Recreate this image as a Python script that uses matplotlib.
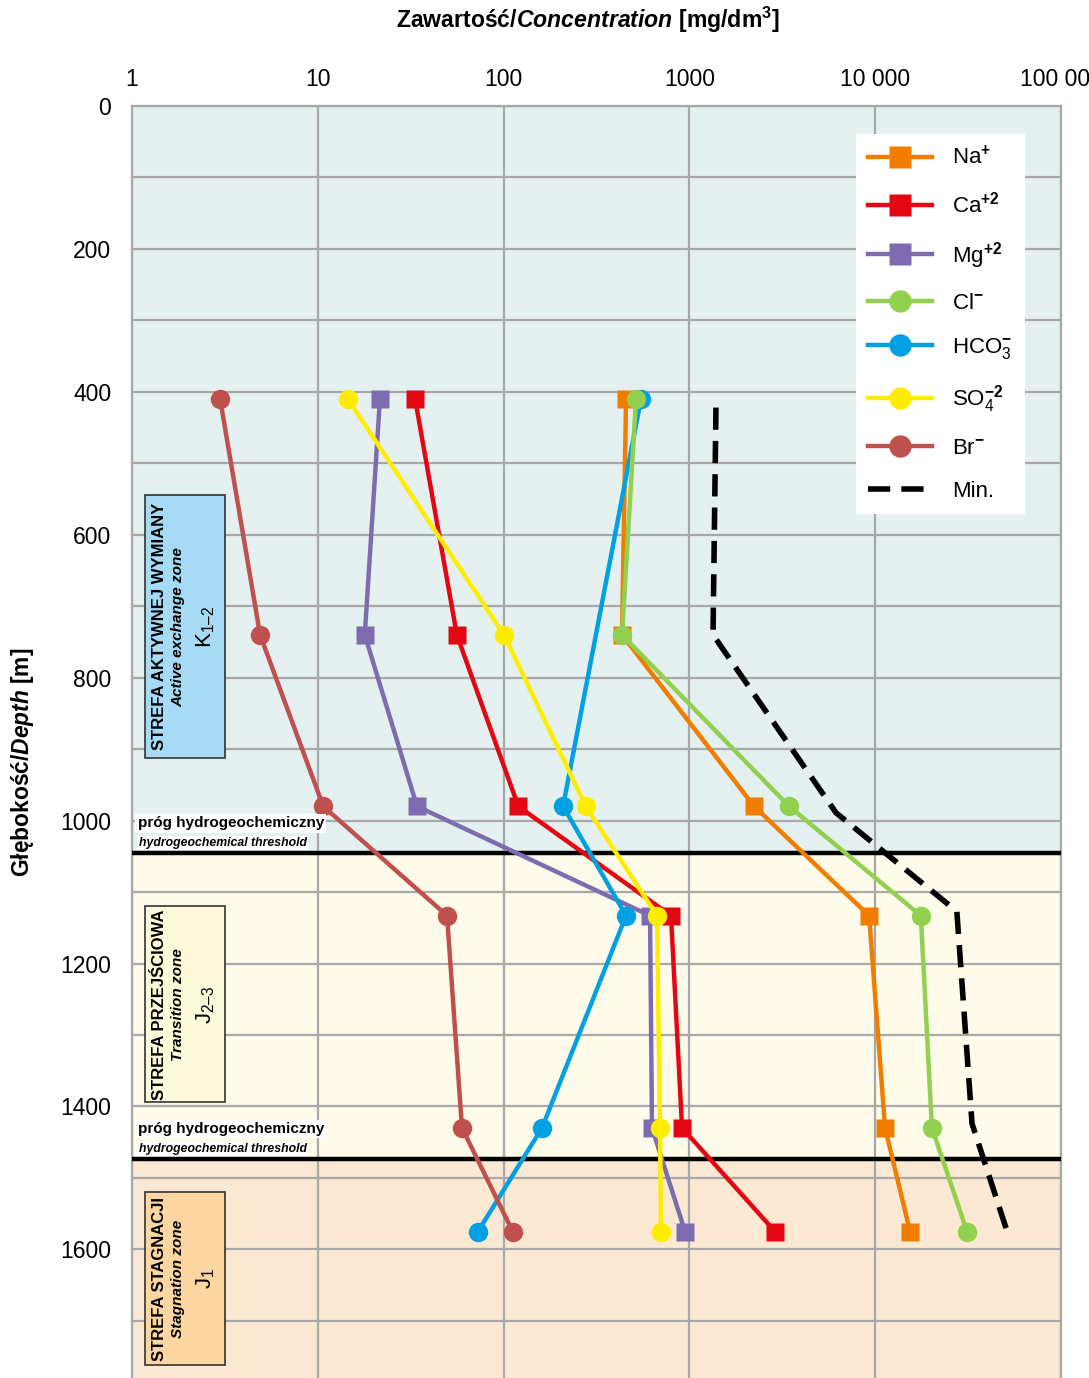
import matplotlib
matplotlib.use("Agg")
import matplotlib.pyplot as plt
import matplotlib.transforms as mtransforms
from matplotlib.patches import Rectangle
from matplotlib.ticker import FixedLocator, NullFormatter

plt.rcParams['font.family'] = ['Liberation Sans', 'DejaVu Sans']
plt.rcParams['mathtext.fontset'] = 'custom'
plt.rcParams['mathtext.rm'] = 'Liberation Sans'
plt.rcParams['mathtext.it'] = 'Liberation Sans:italic'
plt.rcParams['mathtext.bf'] = 'Liberation Sans:bold'
plt.rcParams['mathtext.bfit'] = 'Liberation Sans:italic:bold'
plt.rcParams['mathtext.default'] = 'rm'

# Sampling depths [m]
depth = [410, 740, 980, 1133, 1430, 1575]
depth_hco3 = [410, 980, 1133, 1430, 1575]

# Concentrations [mg/dm3]
na = [456, 434, 2230, 9270, 11300, 15400]
ca = [33.4, 56, 120, 796, 913, 2890]
mg = [21.6, 17.9, 34.2, 614, 629, 947]
cl = [516, 434, 3440, 17600, 20200, 31200]
hco3 = [549, 209, 456, 161, 72.8]
so4 = [14.5, 100.5, 277, 669, 695, 703]
br = [2.98, 4.89, 10.7, 49.6, 59.7, 112]

# Mineralisation curve
min_depth = [422, 740, 989, 1127, 1424, 1579]
min_val = [1390, 1340, 6150, 27500, 33200, 51900]

# Hydrogeochemical zones
zone_bounds = [0, 1046, 1474, 1780]
zone_colors = ['#e5f1f0', '#fefbeb', '#fbe9d4']
thresholds = [1046, 1474]

x_ticks = [1, 10, 100, 1000, 10000, 100000]
x_ticklabels = ['1', '10', '100', '1000', '10 000', '100 000']
y_ticks = [0, 200, 400, 600, 800, 1000, 1200, 1400, 1600]

fig = plt.figure(figsize=(10.89, 13.78), dpi=100)
ax = fig.add_axes([132 / 1089, 0.0, 929 / 1089, 1 - 106 / 1378])
ax.set_xscale('log')
ax.set_xlim(1, 100000)
ax.set_ylim(1780, 0)

# zone backgrounds
for (d0, d1), c in zip(zip(zone_bounds[:-1], zone_bounds[1:]), zone_colors):
    ax.axhspan(d0, d1, color=c, zorder=0, lw=0)

# grid
ax.xaxis.set_major_locator(FixedLocator(x_ticks))
ax.xaxis.set_minor_locator(FixedLocator([]))
ax.yaxis.set_major_locator(FixedLocator(y_ticks))
ax.yaxis.set_minor_locator(FixedLocator(list(range(100, 1800, 200))))
ax.grid(True, which='major', axis='both', color='#a8a8a8', lw=1.6, zorder=1)
ax.grid(True, which='minor', axis='y', color='#a8a8a8', lw=1.6, zorder=1)
ax.set_axisbelow(True)

ax.xaxis.tick_top()
ax.set_xticklabels(x_ticklabels)
ax.tick_params(axis='x', which='both', length=0, pad=11, labelsize=16.5)
ax.tick_params(axis='y', which='both', length=0, pad=15, labelsize=16.5)
ax.yaxis.set_minor_formatter(NullFormatter())
for s in ax.spines.values():
    s.set_color('#a8a8a8')
    s.set_linewidth(1.6)
ax.spines['bottom'].set_visible(False)

for t in thresholds:
    ax.axhline(t, color='black', lw=3.2, zorder=3)

lw = 3.2
ms = 14
series = [
    ('Na$^{\\mathbf{+}}$', na, depth, '#f07d00', 's', 4),
    ('Ca$^{\\mathbf{+2}}$', ca, depth, '#e30613', 's', 4),
    ('Mg$^{\\mathbf{+2}}$', mg, depth, '#7d6db0', 's', 4),
    ('Cl$^{\\mathbf{-}}$', cl, depth, '#92d050', 'o', 6),
    ('HCO$_3^{\\mathbf{-}}$', hco3, depth_hco3, '#00a0e3', 'o', 5),
    ('SO$_4^{\\mathbf{-2}}$', so4, depth, '#ffed00', 'o', 7),
    ('Br$^{\\mathbf{-}}$', br, depth, '#c0504d', 'o', 8),
]
for label, vals, dep, color, mk, z in series:
    ax.plot(vals, dep, color=color, lw=lw, marker=mk, ms=ms if mk == 'o' else ms * 0.95,
            mec='none', label=label, zorder=z)

ax.plot(min_val, min_depth, color='black', lw=4, dashes=(4, 2), label='Min.', zorder=9)

leg = ax.legend(loc='upper right', bbox_to_anchor=(0.961, 0.978), fontsize=16,
                frameon=True, fancybox=False, edgecolor='none', framealpha=1,
                handlelength=2.9, labelspacing=1.0, borderpad=0.55,
                handletextpad=0.9, borderaxespad=0, markerscale=1.15)
leg.set_zorder(20)

# zone labels
trans = mtransforms.blended_transform_factory(ax.transAxes, ax.transData)
zone_boxes = [
    (545, 912, '#a6daf5', 'STREFA AKTYWNEJ WYMIANY', 'Active exchange zone', 'K$_{1\u20132}$'),
    (1120, 1394, '#fef9da', 'STREFA PRZEJŚCIOWA', 'Transition zone', 'J$_{2\u20133}$'),
    (1520, 1762, '#fdd6a2', 'STREFA STAGNACJI', 'Stagnation zone', 'J$_{1}$'),
]
bx0, bx1 = 12.5 / 929, 92.5 / 929
for d0, d1, fc, l1, l2, l3 in zone_boxes:
    ax.add_patch(Rectangle((bx0, d0), bx1 - bx0, d1 - d0, transform=trans,
                           facecolor=fc, edgecolor='#333333', lw=1.2, zorder=10))
    ym = (d0 + d1) / 2
    ax.text(0.0301, ym, l1, transform=trans, rotation=90, ha='center', va='center',
            fontsize=12, fontweight='bold', zorder=11)
    ax.text(0.0497, ym, l2, transform=trans, rotation=90, ha='center', va='center',
            fontsize=11, fontweight='bold', style='italic', zorder=11)
    ax.text(0.0790, ym, l3, transform=trans, rotation=90, ha='center', va='center',
            fontsize=16, zorder=11)

for t in thresholds:
    ax.text(0.006, t - 42, 'próg hydrogeochemiczny', transform=trans, ha='left', va='center',
            fontsize=11, fontweight='bold', zorder=11,
            bbox=dict(facecolor='white', edgecolor='none', pad=1.5))
    ax.text(0.007, t - 15, 'hydrogeochemical threshold', transform=trans, ha='left',
            va='center', fontsize=8.8, fontweight='bold', style='italic', zorder=11,
            bbox=dict(facecolor='white', edgecolor='none', pad=0.8))

fig.text(588 / 1089, 1 - 20 / 1378,
         r'Zawartość/$\mathbfit{Concentration}$ [mg/dm$^{\mathbf{3}}$]',
         ha='center', va='center', fontsize=16.6, fontweight='bold')
fig.text(22 / 1089, 1 - 762 / 1378, r'Głębokość/$\mathbfit{Depth}$ [m]', rotation=90,
         ha='center', va='center', fontsize=16.4, fontweight='bold')

fig.savefig('out.png', dpi=100)
